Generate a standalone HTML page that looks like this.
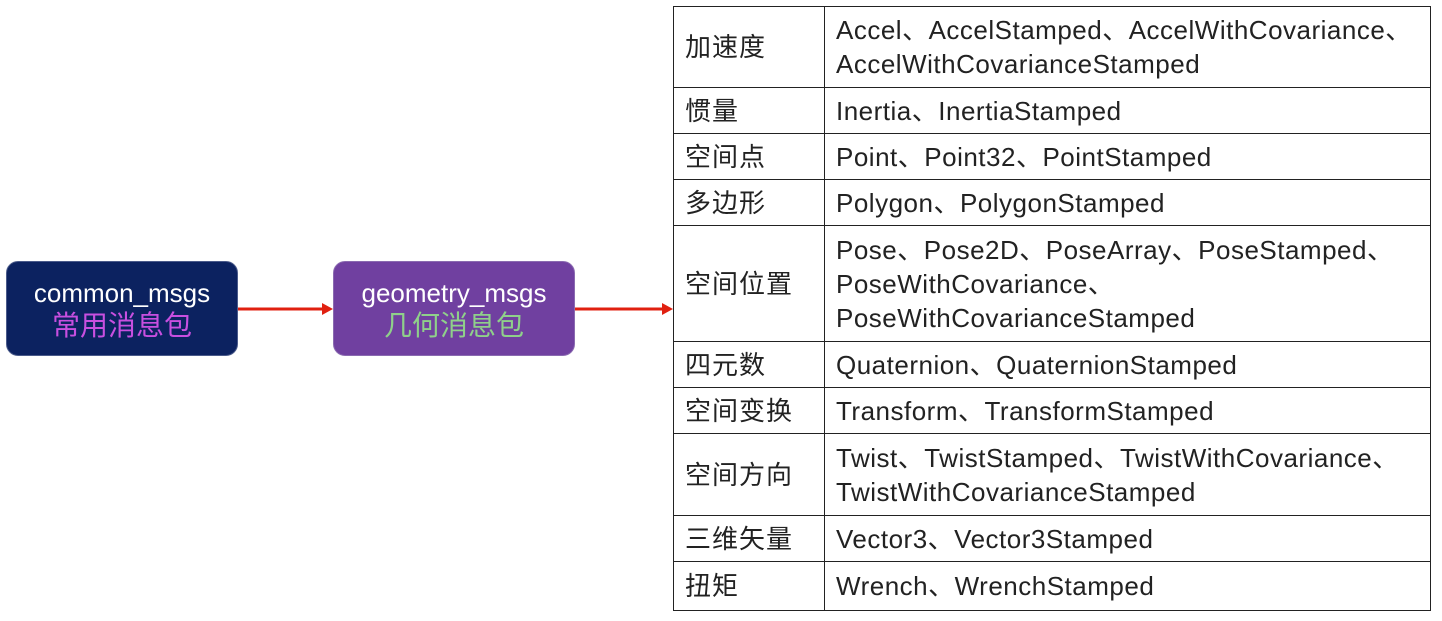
<!DOCTYPE html>
<html><head><meta charset="utf-8"><style>
body{margin:0;width:1442px;height:621px;background:#fff;position:relative;overflow:hidden;font-family:"Liberation Sans","Noto Sans CJK SC",sans-serif}
.box{position:absolute;border-radius:12px;text-align:center;color:#fff;box-sizing:border-box;border:1px solid #4a5a8a}
.box .a{font-size:26px;margin-top:15px;line-height:32px}
.box .b{font-size:28px;line-height:34px}
table{position:absolute;left:673px;top:6px;border-collapse:collapse;font-size:26px;letter-spacing:0.5px;color:#222}
td{border:1.5px solid #222;padding:0 11px;line-height:34px;vertical-align:middle}
td.k{width:128px;letter-spacing:1px}
td.v{width:583px}
</style></head><body>
<div class="box" style="left:6px;top:261px;width:232px;height:95px;background:#0c2260"><div class="a">common_msgs</div><div class="b" style="color:#c84fe0">常用消息包</div></div>
<div class="box" style="left:333px;top:261px;width:242px;height:95px;background:#7040a0;border-color:#8a6ab0"><div class="a">geometry_msgs</div><div class="b" style="color:#8fd08a">几何消息包</div></div>
<svg style="position:absolute;left:0;top:0" width="1442" height="621">
<line x1="238" y1="309" x2="324" y2="309" stroke="#e02010" stroke-width="3"/><polygon points="322,303 333,309 322,315" fill="#e02010"/>
<line x1="575" y1="309" x2="664" y2="309" stroke="#e02010" stroke-width="3"/><polygon points="662,303 673,309 662,315" fill="#e02010"/>
</svg>
<table>
<tr style="height:81px"><td class="k">加速度</td><td class="v">Accel、AccelStamped、AccelWithCovariance、<br>AccelWithCovarianceStamped</td></tr>
<tr style="height:46px"><td class="k">惯量</td><td class="v">Inertia、InertiaStamped</td></tr>
<tr style="height:46px"><td class="k">空间点</td><td class="v">Point、Point32、PointStamped</td></tr>
<tr style="height:46px"><td class="k">多边形</td><td class="v">Polygon、PolygonStamped</td></tr>
<tr style="height:116px"><td class="k">空间位置</td><td class="v">Pose、Pose2D、PoseArray、PoseStamped、<br>PoseWithCovariance、<br>PoseWithCovarianceStamped</td></tr>
<tr style="height:46px"><td class="k">四元数</td><td class="v">Quaternion、QuaternionStamped</td></tr>
<tr style="height:46px"><td class="k">空间变换</td><td class="v">Transform、TransformStamped</td></tr>
<tr style="height:82px"><td class="k">空间方向</td><td class="v">Twist、TwistStamped、TwistWithCovariance、<br>TwistWithCovarianceStamped</td></tr>
<tr style="height:46px"><td class="k">三维矢量</td><td class="v">Vector3、Vector3Stamped</td></tr>
<tr style="height:49px"><td class="k">扭矩</td><td class="v">Wrench、WrenchStamped</td></tr>
</table>
</body></html>
